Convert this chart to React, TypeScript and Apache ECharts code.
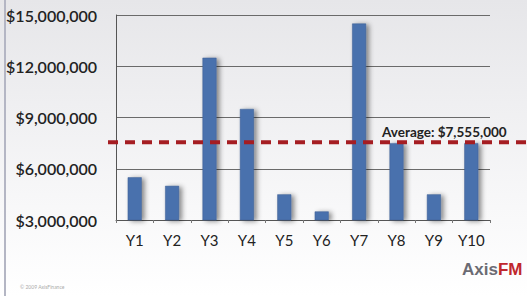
import React, { useEffect, useRef } from "react";
import * as echarts from "echarts";

const categories = ["Y1", "Y2", "Y3", "Y4", "Y5", "Y6", "Y7", "Y8", "Y9", "Y10"];
const values = [5500000, 5000000, 12500000, 9500000, 4500000, 3500000, 14500000, 7500000, 4500000, 7500000];
const average = 7555000;
const averageLabel = "Average: $7,555,000";
const yTicks = [3000000, 6000000, 9000000, 12000000, 15000000];

const fmt = (v: number) => "$" + v.toLocaleString("en-US");

export default function App() {
  const ref = useRef<HTMLDivElement>(null);
  useEffect(() => {
    document.body.style.margin = "0";
    const chart = echarts.init(ref.current!, null, { renderer: "svg" });
    chart.setOption({
      animation: false,
      backgroundColor: {
        type: "linear", x: 0, y: 0, x2: 0, y2: 1,
        colorStops: [
          { offset: 0, color: "#e6e6e9" },
          { offset: 0.7, color: "#f8f8f9" },
          { offset: 1, color: "#ffffff" },
        ],
      },
      grid: { left: 116, right: 37, top: 15, bottom: 76 },
      xAxis: {
        type: "category",
        data: categories,
        axisLine: { show: true, lineStyle: { color: "#555", width: 1 } },
        axisTick: { show: true, length: 3, lineStyle: { color: "#777" } },
        axisLabel: { fontFamily: "Lato", fontSize: 15, color: "#222", margin: 12 },
      },
      yAxis: {
        type: "value",
        min: yTicks[0],
        max: yTicks[yTicks.length - 1],
        interval: 3000000,
        axisLine: { show: true, lineStyle: { color: "#555", width: 1 } },
        axisTick: { show: false },
        splitLine: { lineStyle: { color: "#6a6a6a", width: 1 } },
        axisLabel: {
          fontFamily: "Lato", fontSize: 16, fontWeight: 600, color: "#222", margin: 19,
          formatter: (v: number) => fmt(v),
        },
      },
      series: [
        {
          type: "bar",
          data: values,
          barWidth: 14,
          itemStyle: {
            color: "#4a71ad",
            borderColor: "#3d5f93",
            borderWidth: 0.5,
            shadowBlur: 5,
            shadowOffsetX: 3,
            shadowOffsetY: 1,
            shadowColor: "rgba(0,0,0,0.45)",
          },
        },
      ],
    });
    const y = chart.convertToPixel({ yAxisIndex: 0 }, average) as number;
    chart.setOption({
      graphic: [
        {
          type: "rect",
          shape: { x: 4, y: 0, width: 2, height: 296 },
          style: { fill: "#b4b6c4" },
          silent: true,
        },
        {
          type: "line",
          shape: { x1: 108, y1: y, x2: 527, y2: y },
          style: { stroke: "#a51d22", lineWidth: 4, lineDash: [10, 7] },
          z: 10,
          silent: true,
        },
        {
          type: "text",
          x: 382,
          y: y - 10,
          style: {
            text: averageLabel, fontFamily: "Lato", fontSize: 13.5, fontWeight: "bold",
            fill: "#222", verticalAlign: "middle",
          },
          z: 11,
        },
        {
          type: "text",
          x: 20,
          y: 287,
          style: { text: "© 2009 AxisFinance", fontFamily: "Lato", fontSize: 5, fill: "#aaa", verticalAlign: "middle" },
        },
        {
          type: "text",
          x: 462,
          y: 269,
          style: {
            rich: {
              a: { fontFamily: "Liberation Sans", fontSize: 17, fontWeight: "bold", fill: "#6b6b73" },
              b: { fontFamily: "Liberation Sans", fontSize: 17, fontWeight: "bold", fill: "#c0272d" },
            },
            text: "{a|Axis}{b|FM}",
            verticalAlign: "middle",
          },
        },
      ],
    });
    return () => chart.dispose();
  }, []);
  return <div ref={ref} style={{ position: "fixed", left: 0, top: 0, width: 527, height: 296 }} />;
}
